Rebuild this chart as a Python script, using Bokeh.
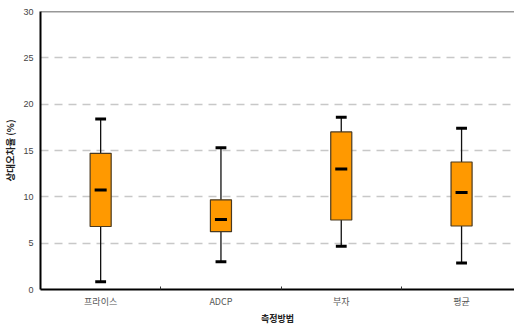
from bokeh.plotting import figure
from bokeh.models import FixedTicker, ColumnDataSource, Span
from bokeh.embed import file_html
from bokeh.resources import INLINE

categories = ["프라이스", "ADCP", "부자", "평균"]
whisker_low = [0.83, 3.0, 4.66, 2.85]
q1 = [6.8, 6.24, 7.5, 6.85]
median = [10.75, 7.56, 13.0, 10.46]
q3 = [14.7, 9.68, 17.0, 13.76]
whisker_high = [18.4, 15.3, 18.6, 17.4]
y_ticks = [0, 5, 10, 15, 20, 25, 30]

xs = [i + 0.5 for i in range(len(categories))]
src = ColumnDataSource(dict(x=xs, lo=whisker_low, q1=q1, med=median, q3=q3, hi=whisker_high,
                            capl=[x - 0.045 for x in xs], capr=[x + 0.045 for x in xs],
                            medl=[x - 0.05 for x in xs], medr=[x + 0.05 for x in xs]))

p = figure(width=514, height=327, output_backend="svg", toolbar_location=None,
           x_range=(0, 3.94), y_range=(0, 30),
           min_border_left=40, min_border_right=0, min_border_top=11, min_border_bottom=37)

# whiskers
p.segment(x0="x", y0="lo", x1="x", y1="hi", source=src, line_color="#111111", line_width=1.3)
p.segment(x0="capl", y0="lo", x1="capr", y1="lo", source=src, line_color="black", line_width=3)
p.segment(x0="capl", y0="hi", x1="capr", y1="hi", source=src, line_color="black", line_width=3)
# boxes
p.vbar(x="x", bottom="q1", top="q3", width=0.175, source=src,
       fill_color="#FF9900", line_color="#4a3a20", line_width=1.2)
# medians
p.segment(x0="medl", y0="med", x1="medr", y1="med", source=src, line_color="black", line_width=3)

# top frame line
p.add_layout(Span(location=y_ticks[-1], dimension="width", line_color="#333333", line_width=1.5))

# axes
p.xaxis.ticker = FixedTicker(ticks=xs, minor_ticks=[1, 2, 3])
p.xaxis.major_label_overrides = {x: c for x, c in zip(xs, categories)}
p.xaxis.major_tick_line_color = None
p.xaxis.major_tick_in = 0
p.xaxis.major_tick_out = 0
p.xaxis.minor_tick_in = 3
p.xaxis.minor_tick_out = 0
p.xaxis.minor_tick_line_color = "#333333"
p.xaxis.axis_line_width = 2
p.xaxis.axis_line_color = "black"
p.xaxis.major_label_standoff = 5
p.xaxis.major_label_text_font = "Noto Sans CJK KR"
p.xaxis.major_label_text_font_size = "9px"
p.xaxis.major_label_text_color = "#555555"
p.xaxis.axis_label = "측정방법"
p.xaxis.axis_label_text_font = "Noto Sans CJK KR"
p.xaxis.axis_label_text_font_size = "9px"
p.xaxis.axis_label_text_font_style = "bold"
p.xaxis.axis_label_text_color = "#222222"
p.xaxis.axis_label_standoff = 1

p.yaxis.ticker = FixedTicker(ticks=y_ticks, minor_ticks=[])
p.yaxis.major_tick_line_color = None
p.yaxis.major_tick_in = 0
p.yaxis.major_tick_out = 0
p.yaxis.axis_line_width = 2
p.yaxis.axis_line_color = "black"
p.yaxis.major_label_standoff = 7
p.yaxis.major_label_text_font = "Liberation Sans"
p.yaxis.major_label_text_font_size = "9px"
p.yaxis.major_label_text_color = "#444444"
p.yaxis.axis_label = "상대오차율 (%)"
p.yaxis.axis_label_text_font = "Noto Sans CJK KR"
p.yaxis.axis_label_text_font_size = "9.5px"
p.yaxis.axis_label_text_font_style = "bold"
p.yaxis.axis_label_text_color = "#222222"
p.yaxis.axis_label_standoff = 3

p.xgrid.grid_line_color = None
p.ygrid.ticker = FixedTicker(ticks=[t for t in y_ticks if 0 < t < 30])
p.ygrid.grid_line_color = "#c8c8c8"
p.ygrid.grid_line_dash = "8 6"
p.ygrid.grid_line_width = 1.3

p.outline_line_color = None
p.background_fill_color = "white"
p.border_fill_color = "white"

open("out.html", "w").write(file_html(p, INLINE))
